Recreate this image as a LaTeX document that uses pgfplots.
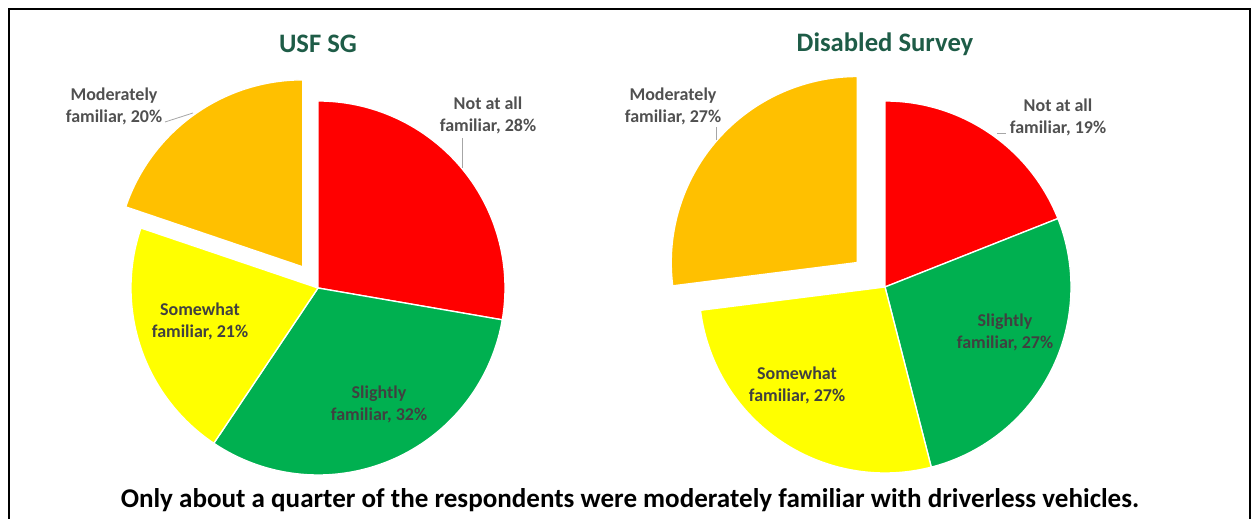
\documentclass[border=0pt]{standalone}
\usepackage{pgfplots}
\pgfplotsset{compat=1.18}
\usepackage{pgfplotstable}
\usepackage{fontspec}
\setmainfont{Carlito}
\definecolor{pred}{HTML}{FF0000}
\definecolor{pgreen}{HTML}{00B050}
\definecolor{pyellow}{HTML}{FFFF00}
\definecolor{porange}{HTML}{FFC000}
\definecolor{ttl}{HTML}{1E5C47}
\definecolor{lbl}{HTML}{404040}
\definecolor{lblo}{HTML}{505050}
\definecolor{lead}{HTML}{A6A6A6}

% value = percentage shown, explode = offset of the slice (px)
\pgfplotstableread{
value colour explode
28 pred 0
32 pgreen 0
21 pyellow 0
20 porange 26
}\usf
\pgfplotstableread{
value colour explode
19 pred 0
27 pgreen 0
27 pyellow 0
27 porange 37
}\dis

\newcommand\drawpie[4]{%
  \pgfplotstablegetrowsof{#1}%
  \pgfmathtruncatemacro\pN{\pgfplotsretval-1}%
  \def\ptot{0}%
  \pgfplotsforeachungrouped \i in {0,...,\pN}{%
    \pgfplotstablegetelem{\i}{value}\of{#1}%
    \pgfmathsetmacro\ptot{\ptot+\pgfplotsretval}%
  }%
  \def\pang{90}%
  \pgfmathsetmacro\prad{#4*0.75}%
  \pgfplotsforeachungrouped \i in {0,...,\pN}{%
    \pgfplotstablegetelem{\i}{value}\of{#1}\let\pval\pgfplotsretval
    \pgfplotstablegetelem{\i}{colour}\of{#1}\let\pcol\pgfplotsretval
    \pgfplotstablegetelem{\i}{explode}\of{#1}\let\pexp\pgfplotsretval
    \pgfmathsetmacro\pangB{\pang-360*\pval/\ptot}%
    \pgfmathsetmacro\pmid{(\pang+\pangB)/2}%
    \pgfmathsetmacro\pcx{#2+\pexp*cos(\pmid)}%
    \pgfmathsetmacro\pcy{#3+\pexp*sin(\pmid)}%
    \pgfmathsetmacro\psx{\pcx+#4*cos(\pang)}%
    \pgfmathsetmacro\psy{\pcy+#4*sin(\pang)}%
    \edef\ptemp{\noexpand\fill[\pcol, draw=white, line width=1pt, line join=round] (axis cs:\pcx,\pcy) -- (axis cs:\psx,\psy) arc[start angle=\pang, end angle=\pangB, radius=\prad pt] -- cycle;}%
    \ptemp
    \let\pang\pangB
  }%
}

\newcommand\lf{\fontsize{13.5}{16.5}\selectfont\bfseries}

\begin{document}
\begin{tikzpicture}
\begin{axis}[x=0.75pt, y=0.75pt, xmin=0, xmax=1259, ymin=0, ymax=519,
  hide axis, clip=false, disabledatascaling]
\path (axis cs:0,0) rectangle (axis cs:1259,519);
\draw[black, line width=1.4pt] (axis cs:9,0) -- (axis cs:9,510) -- (axis cs:1250,510) -- (axis cs:1250,0);

\drawpie{\usf}{318}{231}{187}
\drawpie{\dis}{885}{232}{186}

% titles
\node[font=\fontsize{20}{22}\selectfont\bfseries, text=ttl] at (axis cs:318,475) {USF SG};
\node[font=\fontsize{20}{22}\selectfont\bfseries, text=ttl] at (axis cs:885,475) {Disabled Survey};

% leader lines
\draw[lead, line width=0.6pt] (axis cs:165,397) -- (axis cs:193,406);
\draw[lead, line width=0.6pt] (axis cs:462,381) -- (axis cs:462,351);
\draw[lead, line width=0.6pt] (axis cs:716,392) -- (axis cs:716,379);
\draw[lead, line width=0.6pt] (axis cs:997,386) -- (axis cs:1006,386);

% labels
\node[font=\lf, text=lblo, align=center] at (axis cs:114,413) {Moderately\\familiar, 20\%};
\node[font=\lf, text=lblo, align=center] at (axis cs:488,404) {Not at all\\familiar, 28\%};
\node[font=\lf, text=lbl, align=center] at (axis cs:200,198) {Somewhat\\familiar, 21\%};
\node[font=\lf, text=lbl, align=center] at (axis cs:379,115) {Slightly\\familiar, 32\%};

\node[font=\lf, text=lblo, align=center] at (axis cs:673,413) {Moderately\\familiar, 27\%};
\node[font=\lf, text=lblo, align=center] at (axis cs:1058,402) {Not at all\\familiar, 19\%};
\node[font=\lf, text=lbl, align=center] at (axis cs:1005,187) {Slightly\\familiar, 27\%};
\node[font=\lf, text=lbl, align=center] at (axis cs:797,134) {Somewhat\\familiar, 27\%};

% caption
\node[font=\fontsize{20.3}{24}\selectfont\bfseries, text=black] at (axis cs:630,19) {Only about a quarter of the respondents were moderately familiar with driverless vehicles.};
\end{axis}
\end{tikzpicture}
\end{document}
